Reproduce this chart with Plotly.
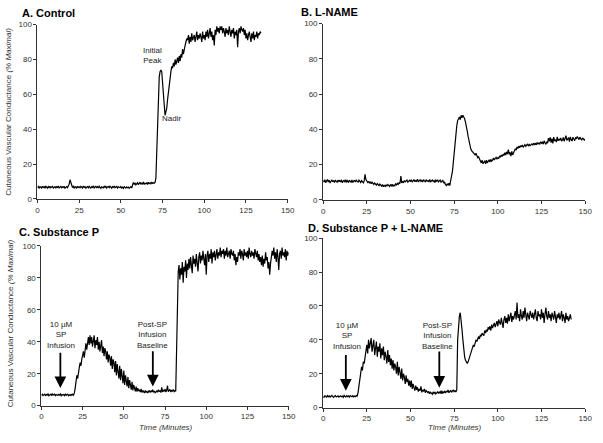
import plotly.graph_objects as go

# ---------------- data (0.5-minute steps) ----------------
STEP = 0.5  # minutes between samples

cvc_a = [6.5,7.2,6.3,7,6.8,6.2,7.3,6.6,7,6.1,7.4,6.7,6.2,7.1,6.5,7.3,6.4,6.9,7.2,6.3,
         6.8,7.1,6.2,7,6.6,7.4,6.3,6.9,7.2,6.4,7,6.6,7.3,6.2,6.9,7.1,6.5,7.4,8.5,11,
         9,7.5,6.6,7.2,6.3,7,6.8,6.1,7.3,6.6,7,6.4,7.2,6.9,6.3,7.4,6.6,7,6.2,6.8,
         7.1,6.4,7.3,6.7,6.2,7,6.6,7.5,6.3,6.9,7.2,6.5,7,6.3,7.3,6.7,6.1,7,6.8,6.4,
         7.2,6.6,7.4,6.3,6.9,7.1,6.5,7.3,6.8,6.2,7,6.6,7.4,6.4,6.9,7.2,6.3,7,6.7,6.5,
         7.1,6.3,6.8,6.1,7,6.5,6.2,6.9,6.4,6.8,6.1,6.6,7,6.3,8.2,9.5,8.3,9,8.1,8.8,
         9.3,8.2,8.9,9.6,8.4,9.1,8.6,9.8,8.3,9,8.7,9.4,8.2,9.6,8.8,9.2,8.5,9.7,8.9,9.3,
         9,9.5,12,25,45,62,70,73,74,73,68,62,54,48,50,52,57,62,66,71,
         73,76,75,78,76,80,77,79,81,78,82,79,83,81,86,83,87,88,90,92,
         91,94,89,93,90,95,91,92,94,90,93,96,91,94,92,95,93,90,96,92,
         94,91,96,93,97,92,95,98,93,96,91,94,88,97,94,99,96,98,95,99,
         97,99,95,98,96,93,98,95,97,94,99,96,93,97,95,98,92,96,94,97,
         87,96,98,95,99,97,96,98,94,97,92,95,91,94,96,93,90,95,92,96,
         91,94,93,96,92,95,94,96,95]

cvc_b = [11,10.2,11.5,9.8,10.8,11.6,10.1,11.2,9.6,10.9,11.4,10.3,11,9.9,11.3,10.5,10,11.2,10.4,11,
         10.2,11.4,9.7,10.8,11.1,10,11.5,10.3,10.9,9.8,11.2,10.6,10.1,11.3,9.9,10.7,11,10.2,11.4,10.5,
         10.1,11.2,10.6,9.9,11,10.3,9.7,10.8,14.5,11.5,10.8,9.9,10.6,9.5,10.3,9.2,10.1,9.4,8.8,9.6,
         9,8.4,9.3,8.6,8.1,9,8.3,7.8,8.7,7.5,8.2,7.6,8.5,7.9,8.8,8.2,7.7,8.6,8,8.9,
         7.6,8.4,8,9.1,8.5,9.4,8.8,9.8,9.3,13.5,9.6,10.4,9.9,11,10.3,10.8,11.3,10.1,10.6,11.2,
         10.4,11.5,10.1,10.9,11.6,10.3,11,10.6,11.8,10.2,10.9,11.4,10.5,11.1,10.2,11.5,10.8,10.3,11.3,10.6,
         11,10.4,11.6,10.1,10.8,11.3,10.5,11,9.9,11.2,10.6,11.4,10.2,10.9,11.3,10.1,10.7,11.1,9.5,10.2,
         8.8,8.2,9,8.5,9.5,8.1,11,13,16,21,27,33,38,42,45,46,47,45.5,48,46.5,
         48,47,46,44,42,39,36,33,31,29,28,27.5,27,26,25.5,26.5,25,24,24.5,23,
         22,21,22.5,20.5,21.5,22,20.5,22.5,21,22,22.8,21.5,23,22,22.5,23.8,22.6,23.5,24.2,23.3,
         24,23.4,25,24.2,25.5,24.6,26,25.2,26.8,25.5,27.2,26,28.5,25.8,27,24.8,27.5,25.5,26.5,28,
         29,28.2,30,29.4,30.5,29.6,30.8,30.1,31.2,29.8,30.6,31.3,30.4,31,31.8,30.5,31.5,30.8,31.2,31.8,
         31,32.2,31.4,32,31.2,32.6,31.7,32.3,31.5,33,32.2,32.8,31.6,33.5,32.4,31.5,33,32.2,35,33.2,
         35.5,32.5,34.8,32,35.6,33.4,34.2,32.8,35.8,33.5,34.6,33.8,35.2,33.4,34,35.5,33.2,34.4,36.5,33.8,
         34.5,35.3,33,35.8,34.2,33.4,35.6,34.4,33.6,35.2,34.8,36,35,34.2,35.6,34.8,33.8,35.2,34.6,34,
         34.5]

cvc_c = [6.5,7.1,6.3,6.9,7.2,6.4,7,6.6,7.3,6.2,6.8,7.1,6.5,7.4,6.6,6.9,7.2,6.3,7,6.7,
         6.4,7.1,6.6,7.3,6.2,6.9,6.6,7,6.3,7.2,6.5,6.9,7.1,6.2,6.8,6.4,7,6.5,7.2,6.6,
         8,11,15,19,17,22,24,27,25,29,31,34,30,37,39,35,41,43,38,44,
         39,43,37,42,44,36,41,38,43,35,40,34,38,41,33,37,31,36,34,29,
         34,27,32,30,25,31,23,29,27,21,28,19,26,22,17,25,16,23,19,14,
         22,13,19,15,12,18,11,16,13,10,15,9.5,13,10.5,9,12,8.8,11,9.2,10,
         8.5,10.5,8.2,9.6,8.8,7.9,9.5,8.3,9.2,8,8.8,9.6,8.2,9.4,8.6,10,8.4,9.2,8.1,8.9,
         9.2,8.4,10,8.8,9.5,8.2,11.5,8.6,9.8,9,10.4,8.5,9.6,12.5,8.8,9.4,10.2,8.6,9.5,9.1,
         10.2,8.8,9.4,9,30,68,84,88,79,86,82,90,77,87,84,91,80,89,85,92,
         86,93,88,83,94,89,92,87,95,90,84,93,96,89,94,91,97,92,88,95,
         82,94,97,90,95,92,98,89,96,93,97,91,95,98,92,96,94,99,93,97,
         95,98,92,97,94,99,93,96,97,92,98,95,94,97,91,95,88,93,90,96,
         94,98,92,97,95,91,98,94,96,93,97,92,99,95,93,97,94,96,92,98,
         96,93,97,91,95,90,93,88,94,87,92,89,96,91,93,86,90,82,89,93,
         97,94,99,92,96,90,98,93,85,95,97,92,99,94,96,93,98,91,97,94,
         96]

cvc_d = [6.5,6.1,7,6.6,6.2,7.1,6.4,6.9,6.2,6.7,7.2,6.5,6.1,6.8,7.1,6.3,6.6,7,6.2,6.8,
         7,6.4,6.8,6.1,7.2,6.6,6.3,7,6.5,6.9,6.2,7.1,6.6,6.4,7,6.3,6.8,6.5,7.1,6.6,
         9,13,18,21,24,22,27,26,30,33,37,32,40,35,39,41,33,38,40,31,
         37,39,30,36,33,38,29,35,31,36,28,33,30,26,34,27,31,25,29,23,
         28,22,26,24,20,27,19,24,21,17,23,16,20,18,14,19,15,17,13,16,
         12,16,11,14,12,10,13,10.5,12,9.5,11,10,12.5,9,10.5,9.6,11,8.8,10,9.2,
         8.8,9.6,8.2,9.1,8.5,7.9,9.3,8.4,9,8.1,8.7,9.5,8.3,9.2,8.6,10,8.2,9.4,8.8,9.6,
         8.6,9.8,9.1,10.4,8.8,9.6,10.2,9,9.8,10.5,9.4,10,9.2,10.6,40,50,54,56,52,46,
         40,34,30,28,26.5,26,27,28.5,30,32,34,35.5,37,36,38.5,40,39,41,42,40.5,
         43,42,44,43,42.5,45.5,44,46,45,47.5,46,48,45.5,49,47,48.5,50,47.5,49,51,
         48,52,50,49,53,50.5,47,52,54,50,53,49.5,55,51,53,56,50.5,54,52,55,
         57,52,62,53,55,51,58,54,52,57,53,59,55,51,56,54,52,57,55,53,
         56,52,55,58,53,51,57,54,55,52,58,53,56,50,55,59,54,52,57,53,
         55,51,56,53,52,57,54,50,55,53,56,52,54,57,51,55,53,50,56,52,
         54,51,53,55,52]

panel_titles = ["A. Control", "B. L-NAME", "C. Substance P", "D. Substance P + L-NAME"]
x_ticks = [0, 25, 50, 75, 100, 125, 150]
y_ticks = [0, 20, 40, 60, 80, 100]
y_label = "Cutaneous Vascular Conductance <i>(% Maximal)</i>"
x_label = "<i>Time (Minutes)</i>"

# ---------------- figure ----------------
W, H = 603, 443
FONT = "Liberation Sans, Arial, sans-serif"

def px(x):
    return x / W

def py(y):
    return 1 - y / H

def times(values):
    return [i * STEP for i in range(len(values))]

fig = go.Figure()
series = [cvc_a, cvc_b, cvc_c, cvc_d]
for i, v in enumerate(series):
    sfx = "" if i == 0 else str(i + 1)
    fig.add_trace(go.Scatter(x=times(v), y=v, mode="lines",
                             line=dict(color="black", width=1.2),
                             xaxis="x" + sfx, yaxis="y" + sfx,
                             showlegend=False, hoverinfo="skip"))

# panel boxes in pixels: (x0, x1, ytop, ybottom)
boxes = [(36, 290, 21, 199), (326, 592, 20, 200), (40, 291, 247, 410), (326, 592, 239, 412)]
axis_common = dict(showgrid=False, zeroline=False, showline=True, linecolor="#333333",
                   linewidth=1, ticks="outside", ticklen=3, tickcolor="#333333",
                   tickfont=dict(family=FONT, size=8, color="#333333"))
layout = {}
for i, (x0, x1, yt, yb) in enumerate(boxes):
    sfx = "" if i == 0 else str(i + 1)
    layout["xaxis" + sfx] = dict(axis_common, domain=[px(x0), px(x1)], range=[0, 150],
                                 tickvals=x_ticks, anchor="y" + sfx)
    layout["yaxis" + sfx] = dict(axis_common, domain=[py(yb), py(yt)], range=[0, 100],
                                 tickvals=y_ticks, anchor="x" + sfx)

fig.update_layout(width=W, height=H, margin=dict(l=0, r=0, t=0, b=0),
                  paper_bgcolor="white", plot_bgcolor="white", **layout)

ann = []
# panel titles
title_pos = [(18, 9), (302, 8), (15, 233), (309, 229)]
for text, (x, y) in zip(panel_titles, title_pos):
    ann.append(dict(text="<b>" + text + "</b>", x=px(x), y=py(y), xref="paper", yref="paper",
                    xanchor="left", yanchor="middle", showarrow=False,
                    font=dict(family=FONT, size=11, color="black")))
# y labels
for (x, y) in [(7, 110), (8, 326)]:
    ann.append(dict(text=y_label, x=px(x), y=py(y), xref="paper", yref="paper",
                    textangle=-90, showarrow=False, xanchor="center", yanchor="middle",
                    font=dict(family=FONT, size=8, color="#333333")))
# x labels
for (x, y) in [(166, 432), (460, 432)]:
    ann.append(dict(text=x_label, x=px(x), y=py(y), xref="paper", yref="paper",
                    showarrow=False, xanchor="center", yanchor="middle",
                    font=dict(family=FONT, size=8, color="#333333")))

txt_font = dict(family=FONT, size=8, color="#222222")
# Panel A labels
ann.append(dict(text="Initial<br>Peak", x=69, y=82, xref="x", yref="y", showarrow=False, font=txt_font))
ann.append(dict(text="Nadir", x=80.5, y=46, xref="x", yref="y", showarrow=False, font=txt_font))
ann.append(dict(text="Secondary Plateau", x=115, y=102, xref="x", yref="y", showarrow=False, font=txt_font))

# Panel C & D labels + arrows
for sfx, items in [("3", [(12, 44, 11.5, 34, 11, "10 µM<br>SP<br>Infusion"),
                          (67.5, 44, 67.6, 35, 12, "Post-SP<br>Infusion<br>Baseline")]),
                   ("4", [(13.5, 42, 13, 32, 10, "10 µM<br>SP<br>Infusion"),
                          (65.2, 42, 66.5, 34, 11.7, "Post-SP<br>Infusion<br>Baseline")])]:
    for (tx, ty, axx, tail, head, text) in items:
        ann.append(dict(text=text, x=tx, y=ty, xref="x" + sfx, yref="y" + sfx,
                        showarrow=False, font=txt_font, yanchor="middle"))
        ann.append(dict(text="", x=axx, y=head, xref="x" + sfx, yref="y" + sfx,
                        ax=axx, ay=tail, axref="x" + sfx, ayref="y" + sfx,
                        showarrow=True, arrowhead=2, arrowsize=1.3, arrowwidth=1.8,
                        arrowcolor="black"))

fig.update_layout(annotations=ann)
fig.write_html("out.html", config={"displayModeBar": False},
               post_script="document.body.style.margin='0';")
